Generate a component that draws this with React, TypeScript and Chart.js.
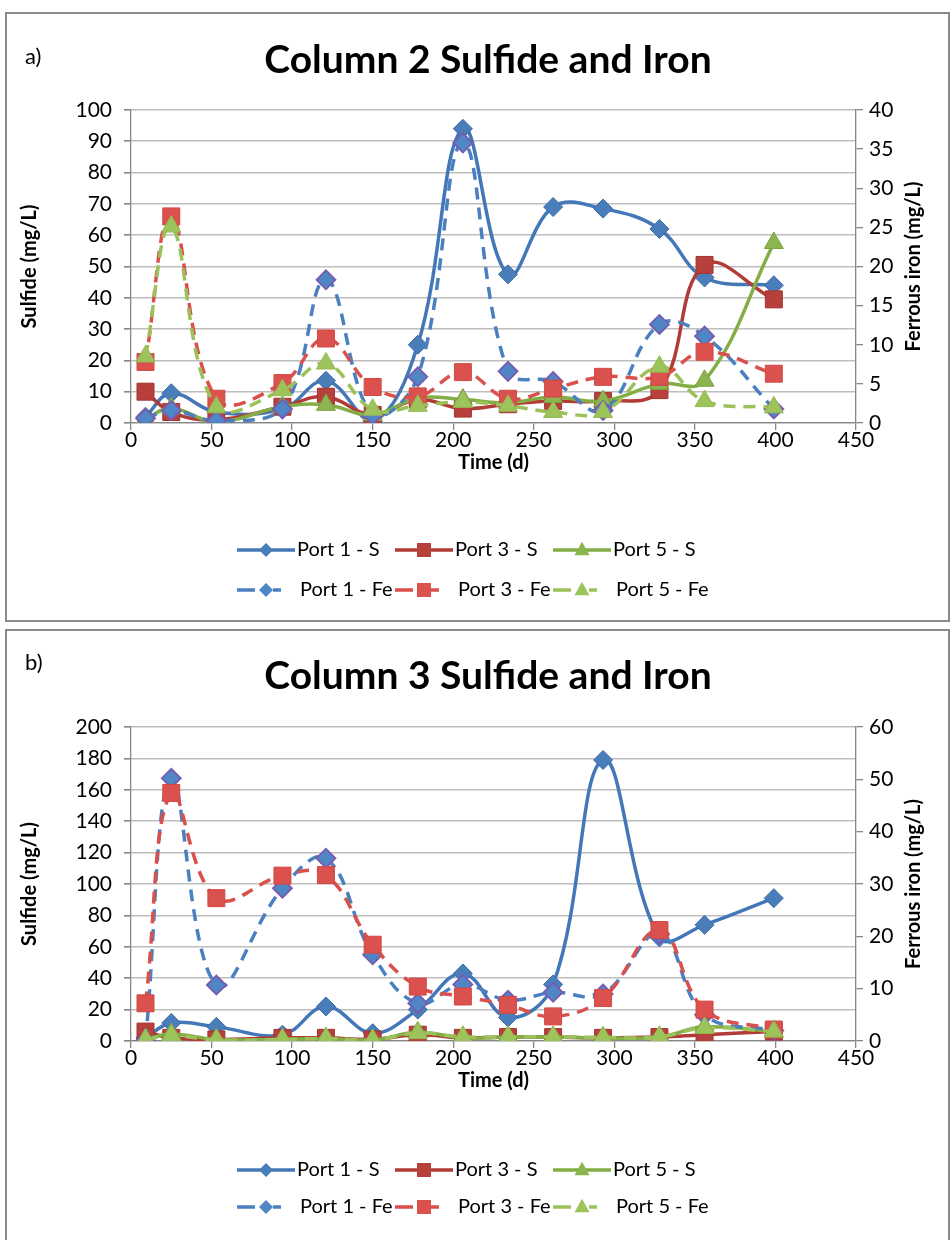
import React, { useEffect, useRef } from 'react';
import { Chart, registerables } from 'chart.js';

Chart.register(...registerables);

const FONT = 'Lato, "Open Sans", "DejaVu Sans", sans-serif';

const timeDays = [9, 25, 53, 94, 121, 150, 178, 206, 234, 262, 293, 328, 356, 399];
const xTicks = [0, 50, 100, 150, 200, 250, 300, 350, 400, 450];

// a) Column 2 — sulfide (mg/L, left axis)
const c2Port1S = [2, 9.5, 3.5, 4.5, 13.5, 0.5, 25, 94, 47.5, 69, 68.5, 62, 46.5, 44];
const c2Port3S = [10, 3.5, 1, 5.2, 8.4, 2.6, 7.5, 4.6, 6, 7, 7, 10.5, 50.5, 39.5];
const c2Port5S = [1.4, 4.7, 0.4, 5.2, 5.8, 2.6, 8, 7.5, 6.5, 8.3, 7, 12.5, 13.5, 57.5];
// a) Column 2 — ferrous iron (mg/L, right axis)
const c2Port1Fe = [0.6, 1.6, 0.3, 1.8, 18.3, 1, 5.9, 35.8, 6.6, 5.3, 1.6, 12.6, 11.1, 1.8];
const c2Port3Fe = [7.8, 26.4, 3.1, 5.1, 10.8, 4.6, 3.4, 6.5, 3.1, 4.4, 5.9, 5.9, 9.1, 6.3];
const c2Port5Fe = [8.5, 25.1, 2, 4.2, 7.6, 1.7, 2.2, 2.7, 2.2, 1.4, 1.4, 7.2, 2.8, 2];

// b) Column 3 — sulfide (mg/L, left axis)
const c3Port1S = [2, 11.5, 9, 4, 22, 5, 20, 43, 15, 36, 179, 66, 74, 91];
const c3Port3S = [6, 2, 1, 2, 2, 1, 4, 2, 2.5, 2.5, 2, 2.5, 4, 6];
const c3Port5S = [1, 4.5, 1, 1, 1.5, 0.5, 5.5, 2, 2.5, 2.5, 2, 2.5, 9, 6];
// b) Column 3 — ferrous iron (mg/L, right axis)
const c3Port1Fe = [0, 50.2, 10.7, 29.2, 34.9, 16.5, 7.2, 10.8, 7.8, 9.3, 9, 20.5, 5, 2];
const c3Port3Fe = [7.2, 47.4, 27.3, 31.6, 31.7, 18.4, 10.4, 8.5, 6.9, 4.7, 8.2, 21.2, 6, 2.2];
const c3Port5Fe = [0.3, 1, 0.2, 0.3, 0.5, 0.2, 1.5, 0.8, 0.8, 0.8, 0.7, 0.8, 2.5, 1.8];

const seriesLabels = ['Port 1 - S', 'Port 3 - S', 'Port 5 - S', 'Port 1 - Fe', 'Port 3 - Fe', 'Port 5 - Fe'];

type Style = {
  line: string;
  fill: string;
  border: string;
  marker: 'rectRot' | 'rect' | 'triangle';
  radius: number;
  dashed: boolean;
};

const STYLES: Style[] = [
  { line: '#4477B8', fill: '#4A7EBB', border: '#3C6AA6', marker: 'rectRot', radius: 9.5, dashed: false },
  { line: '#B23B36', fill: '#B8403C', border: '#A3322F', marker: 'rect', radius: 12, dashed: false },
  { line: '#82AE45', fill: '#8DB54F', border: '#7BA23F', marker: 'triangle', radius: 11, dashed: false },
  { line: '#4A80C0', fill: '#4F86C6', border: '#7A5AAE', marker: 'rectRot', radius: 9.5, dashed: true },
  { line: '#D9504C', fill: '#DA514D', border: '#D24844', marker: 'rect', radius: 12, dashed: true },
  { line: '#9CC15A', fill: '#9DC35B', border: '#94BA52', marker: 'triangle', radius: 11, dashed: true },
];

function drawMarker(ctx: CanvasRenderingContext2D, marker: string, x: number, y: number, s: number) {
  ctx.beginPath();
  if (marker === 'rectRot') {
    ctx.moveTo(x, y - s);
    ctx.lineTo(x + s, y);
    ctx.lineTo(x, y + s);
    ctx.lineTo(x - s, y);
  } else if (marker === 'rect') {
    ctx.rect(x - s, y - s, 2 * s, 2 * s);
  } else {
    ctx.moveTo(x, y - s * 1.1);
    ctx.lineTo(x + s, y + s * 0.7);
    ctx.lineTo(x - s, y + s * 0.7);
  }
  ctx.closePath();
  ctx.fill();
}

type PanelCfg = {
  tag: string;
  title: string;
  s: number[][];
  fe: number[][];
  yMax: number;
  yStep: number;
  y2Max: number;
  y2Step: number;
  top: number;
  height: number;
  plotTop: number;
  plotBottom: number;
  titleY: number;
  tagY: number;
  legendY1: number;
  legendY2: number;
};

const PLOT_LEFT = 131;
const PLOT_RIGHT = 856;

function makeDecor(cfg: PanelCfg) {
  return {
    id: 'decor' + cfg.tag,
    afterDraw(chart: any) {
      const ctx: CanvasRenderingContext2D = chart.ctx;
      const { left, right, top, bottom } = chart.chartArea;
      ctx.save();
      ctx.fillStyle = '#000';
      ctx.textBaseline = 'middle';
      ctx.textAlign = 'left';
      ctx.font = `22px ${FONT}`;
      ctx.fillText(cfg.tag, 25, cfg.tagY);
      ctx.textAlign = 'center';
      ctx.font = `bold 39px ${FONT}`;
      ctx.fillText(cfg.title, 488, cfg.titleY);

      ctx.font = `bold 20px ${FONT}`;
      const midY = (top + bottom) / 2;
      ctx.save();
      ctx.translate(30, midY);
      ctx.rotate(-Math.PI / 2);
      ctx.fillText('Sulfide (mg/L)', 0, 0);
      ctx.restore();
      ctx.save();
      ctx.translate(914, midY);
      ctx.rotate(-Math.PI / 2);
      ctx.fillText('Ferrous iron (mg/L)', 0, 0);
      ctx.restore();
      ctx.fillText('Time (d)', (left + right) / 2, bottom + 40);

      // legend: 2 rows x 3 columns
      const cols = [237, 395, 553];
      ctx.font = `20px ${FONT}`;
      ctx.textAlign = 'left';
      seriesLabels.forEach((lab, i) => {
        const st = STYLES[i];
        const row = i < 3 ? 0 : 1;
        const x0 = cols[i % 3];
        const y = row === 0 ? cfg.legendY1 : cfg.legendY2;
        ctx.save();
        ctx.strokeStyle = st.line;
        ctx.lineWidth = 3.5;
        ctx.beginPath();
        if (st.dashed) {
          ctx.moveTo(x0, y);
          ctx.lineTo(x0 + 18, y);
          ctx.moveTo(x0 + 36, y);
          ctx.lineTo(x0 + 44, y);
        } else {
          ctx.moveTo(x0, y);
          ctx.lineTo(x0 + 58, y);
        }
        ctx.stroke();
        ctx.fillStyle = st.fill;
        drawMarker(ctx, st.marker, x0 + 29, y, st.marker === 'rectRot' ? 7 : st.marker === 'rect' ? 7 : 7.5);
        ctx.restore();
        ctx.fillStyle = '#000';
        ctx.fillText(lab, st.dashed ? x0 + 63 : x0 + 60, y);
      });
      ctx.restore();
    },
  };
}

function buildDatasets(cfg: PanelCfg) {
  const all = [...cfg.s, ...cfg.fe];
  return all.map((ys, i) => {
    const st = STYLES[i];
    return {
      label: seriesLabels[i],
      data: timeDays.map((x, k) => ({ x, y: ys[k] })),
      borderColor: st.line,
      backgroundColor: st.fill,
      pointBackgroundColor: st.fill,
      pointBorderColor: st.border,
      pointBorderWidth: i === 3 ? 1.8 : 1,
      pointStyle: st.marker,
      pointRadius: st.radius,
      pointHoverRadius: st.radius,
      borderWidth: 3.5,
      borderDash: st.dashed ? [12, 8] : [],
      tension: 0.4,
      fill: false,
      yAxisID: i < 3 ? 'y' : 'y2',
      order: 6 - i,
    };
  });
}

function Panel({ cfg }: { cfg: PanelCfg }) {
  const ref = useRef<HTMLCanvasElement | null>(null);
  useEffect(() => {
    if (!ref.current) return;
    const axisColor = '#868686';
    const tickFont = { family: FONT, size: 21 };
    const chart = new Chart(ref.current, {
      type: 'line',
      data: { datasets: buildDatasets(cfg) as any },
      options: {
        animation: false,
        responsive: false,
        maintainAspectRatio: false,
        events: [],
        layout: { padding: { top: cfg.plotTop, left: 0, right: 0, bottom: 0 } },
        plugins: { legend: { display: false }, title: { display: false }, tooltip: { enabled: false } },
        scales: {
          x: {
            type: 'linear',
            min: 0,
            max: 450,
            afterBuildTicks: (sc: any) => {
              sc.ticks = xTicks.map((v) => ({ value: v }));
            },
            afterFit: (sc: any) => {
              sc.height = cfg.height - cfg.plotBottom;
            },
            ticks: { color: '#000', font: tickFont, padding: -2, maxRotation: 0, autoSkip: false },
            grid: { drawOnChartArea: false, drawTicks: true, tickLength: 7, color: axisColor, lineWidth: 1.3 },
            border: { color: axisColor, width: 1.3 },
          },
          y: {
            type: 'linear',
            position: 'left',
            min: 0,
            max: cfg.yMax,
            ticks: { stepSize: cfg.yStep, color: '#000', font: tickFont, padding: 12 },
            afterFit: (sc: any) => {
              sc.width = PLOT_LEFT;
            },
            grid: { color: '#BEBEBE', lineWidth: 1.6, tickLength: 7, tickColor: axisColor },
            border: { color: axisColor, width: 1.3 },
          },
          y2: {
            type: 'linear',
            position: 'right',
            min: 0,
            max: cfg.y2Max,
            ticks: { stepSize: cfg.y2Step, color: '#000', font: tickFont, padding: 6 },
            afterFit: (sc: any) => {
              sc.width = 952 - PLOT_RIGHT;
            },
            grid: { drawOnChartArea: false, tickLength: 7, color: axisColor, lineWidth: 1.3 },
            border: { color: axisColor, width: 1.3 },
          },
        },
      },
      plugins: [makeDecor(cfg)],
    });
    return () => chart.destroy();
  }, [cfg]);
  return (
    <canvas
      ref={ref}
      width={952}
      height={cfg.height}
      style={{ position: 'absolute', left: 0, top: cfg.top, width: 952, height: cfg.height }}
    />
  );
}

const panelA: PanelCfg = {
  tag: 'a)',
  title: 'Column 2 Sulfide and Iron',
  s: [c2Port1S, c2Port3S, c2Port5S],
  fe: [c2Port1Fe, c2Port3Fe, c2Port5Fe],
  yMax: 100,
  yStep: 10,
  y2Max: 40,
  y2Step: 5,
  top: 0,
  height: 617,
  plotTop: 110,
  plotBottom: 423,
  titleY: 60,
  tagY: 57,
  legendY1: 550,
  legendY2: 590,
};

const panelB: PanelCfg = {
  tag: 'b)',
  title: 'Column 3 Sulfide and Iron',
  s: [c3Port1S, c3Port3S, c3Port5S],
  fe: [c3Port1Fe, c3Port3Fe, c3Port5Fe],
  yMax: 200,
  yStep: 20,
  y2Max: 60,
  y2Step: 10,
  top: 617,
  height: 623,
  plotTop: 110,
  plotBottom: 424,
  titleY: 59,
  tagY: 46,
  legendY1: 553,
  legendY2: 590,
};

export default function App() {
  return (
    <div style={{ position: 'absolute', left: 0, top: 0, width: 952, height: 1240, background: '#fff', overflow: 'hidden' }}>
      <div style={{ position: 'absolute', left: 5, top: 12, width: 941, height: 606, border: '2px solid #8A8A8A' }} />
      <div style={{ position: 'absolute', left: 5, top: 629, width: 941, height: 620, border: '2px solid #8A8A8A' }} />
      <Panel cfg={panelA} />
      <Panel cfg={panelB} />
    </div>
  );
}
